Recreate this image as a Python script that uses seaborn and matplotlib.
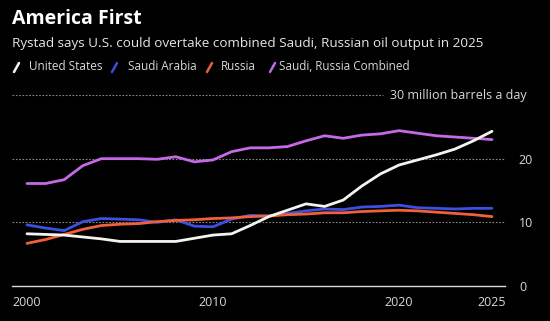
import matplotlib
matplotlib.use("Agg")
import matplotlib.pyplot as plt
import seaborn as sns
import pandas as pd
from matplotlib.lines import Line2D

years = list(range(2000, 2026))
united_states = [8.2, 8.1, 8.0, 7.7, 7.4, 7.0, 7.0, 7.0, 7.0, 7.5, 8.0, 8.2, 9.5, 10.9,
                 11.9, 12.9, 12.5, 13.5, 15.7, 17.6, 19.0, 19.8, 20.6, 21.5, 22.8, 24.3]
saudi_arabia = [9.6, 9.1, 8.7, 10.1, 10.6, 10.5, 10.4, 10.0, 10.4, 9.4, 9.3, 10.5, 11.1, 11.0,
                11.4, 11.8, 12.1, 12.0, 12.4, 12.5, 12.7, 12.3, 12.2, 12.1, 12.2, 12.2]
russia = [6.7, 7.3, 8.1, 8.9, 9.5, 9.7, 9.8, 10.1, 10.3, 10.4, 10.6, 10.7, 10.9, 11.0,
          11.2, 11.3, 11.5, 11.5, 11.7, 11.8, 11.9, 11.8, 11.6, 11.4, 11.2, 10.9]
combined = [16.1, 16.1, 16.7, 18.9, 20.0, 20.0, 20.0, 19.9, 20.3, 19.5, 19.8, 21.1, 21.7, 21.7,
            21.9, 22.8, 23.6, 23.2, 23.7, 23.9, 24.4, 24.0, 23.6, 23.4, 23.2, 23.0]
series_names = ["United States", "Saudi Arabia", "Russia", "Saudi, Russia Combined"]
x_ticks = [2000, 2010, 2020, 2025]
y_ticks = [0, 10, 20]

colors = {"United States": "#f4f4ee", "Saudi Arabia": "#3d4fe0",
          "Russia": "#f0603a", "Saudi, Russia Combined": "#c46ae6"}

df = pd.DataFrame({"year": years, "United States": united_states, "Saudi Arabia": saudi_arabia,
                   "Russia": russia, "Saudi, Russia Combined": combined})
long = df.melt(id_vars="year", var_name="series", value_name="value")

sns.set_style("dark")
plt.rcParams["font.family"] = ["Open Sans", "DejaVu Sans"]

W, H = 550, 321
fig = plt.figure(figsize=(W / 100, H / 100), dpi=100, facecolor="black")
ax = fig.add_axes([12 / W, (H - 286) / H, (505 - 12) / W, (286 - 95) / H])
ax.set_facecolor("black")

grid_col = "#8a8a8a"
for v in [10, 20]:
    ax.axhline(v, color=grid_col, lw=0.8, ls=(0, (1.5, 1.5)), zorder=1)
ax.axhline(30, xmin=0, xmax=(383 - 12) / (505 - 12), color=grid_col, lw=0.8,
           ls=(0, (1.5, 1.5)), zorder=1)

order = ["Saudi, Russia Combined", "Saudi Arabia", "Russia", "United States"]
sns.lineplot(data=long, x="year", y="value", hue="series", hue_order=order,
             palette=colors, ax=ax, legend=False, linewidth=2.0, zorder=3)

ax.set_xlim(2000 - 15 / 18.6, 2025 + 13 / 18.6)
ax.set_ylim(0, 30)
ax.set_xlabel("")
ax.set_ylabel("")
for s in ["top", "left", "right"]:
    ax.spines[s].set_visible(False)
ax.spines["bottom"].set_color("#d8d8d8")
ax.spines["bottom"].set_linewidth(1.0)
ax.set_xticks(x_ticks)
ax.set_xticklabels([str(t) for t in x_ticks])
ax.set_yticks(y_ticks)
ax.set_yticklabels([str(t) for t in y_ticks])
ax.yaxis.tick_right()
ax.tick_params(axis="y", length=0, pad=10, colors="#d8d8d8", labelsize=9)
ax.tick_params(axis="x", length=5, width=1, direction="inout", colors="#d8d8d8",
               labelsize=9, pad=5)
ax.grid(False)

fig.text(527 / W, 1 - 96 / H, "30 million barrels a day", color="#d8d8d8", fontsize=9,
         ha="right", va="center")

fig.text(12 / W, 1 - 19 / H, "America First", color="white", fontsize=14,
         fontweight="bold", ha="left", va="center")
fig.text(12 / W, 1 - 43 / H,
         "Rystad says U.S. could overtake combined Saudi, Russian oil output in 2025",
         color="#e6e6e6", fontsize=9.7, ha="left", va="center")

legend_items = [(14, 29), (112, 128), (207, 221), (270, 279)]
for (sx, tx), name in zip(legend_items, series_names):
    fig.add_artist(Line2D([sx / W, (sx + 5) / W], [1 - 72 / H, 1 - 63 / H],
                          color=colors[name], lw=1.8, transform=fig.transFigure))
    fig.text(tx / W, 1 - 67 / H, name, color="#d8d8d8", fontsize=8.5,
             ha="left", va="center")

fig.savefig("out.png", dpi=100, facecolor="black")
